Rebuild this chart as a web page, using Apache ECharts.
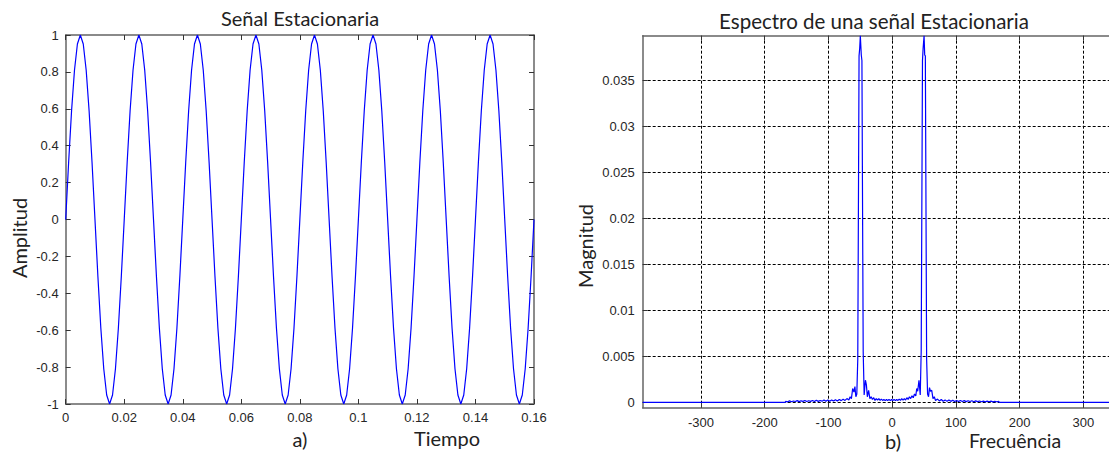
<!DOCTYPE html>
<html><head><meta charset="utf-8">
<script src="https://cdn.jsdelivr.net/npm/echarts@6/dist/echarts.min.js"></script>
<style>html,body{margin:0;padding:0;background:#fff}#c{width:1109px;height:452px}</style>
</head><body><div id="c"></div>
<script>
// ---- Data ----
const timeStep = 0.001; // sample spacing of the time signal (s)
const signalValues = [
 0,0.309,0.588,0.809,0.951,1,0.951,0.809,0.588,0.309,0,-0.309,-0.588,-0.809,-0.951,-1,-0.951,-0.809,-0.588,-0.309,
 0,0.309,0.588,0.809,0.951,1,0.951,0.809,0.588,0.309,0,-0.309,-0.588,-0.809,-0.951,-1,-0.951,-0.809,-0.588,-0.309,
 0,0.309,0.588,0.809,0.951,1,0.951,0.809,0.588,0.309,0,-0.309,-0.588,-0.809,-0.951,-1,-0.951,-0.809,-0.588,-0.309,
 0,0.309,0.588,0.809,0.951,1,0.951,0.809,0.588,0.309,0,-0.309,-0.588,-0.809,-0.951,-1,-0.951,-0.809,-0.588,-0.309,
 0,0.309,0.588,0.809,0.951,1,0.951,0.809,0.588,0.309,0,-0.309,-0.588,-0.809,-0.951,-1,-0.951,-0.809,-0.588,-0.309,
 0,0.309,0.588,0.809,0.951,1,0.951,0.809,0.588,0.309,0,-0.309,-0.588,-0.809,-0.951,-1,-0.951,-0.809,-0.588,-0.309,
 0,0.309,0.588,0.809,0.951,1,0.951,0.809,0.588,0.309,0,-0.309,-0.588,-0.809,-0.951,-1,-0.951,-0.809,-0.588,-0.309,
 0,0.309,0.588,0.809,0.951,1,0.951,0.809,0.588,0.309,0,-0.309,-0.588,-0.809,-0.951,-1,-0.951,-0.809,-0.588,-0.309,
 0
];
const freqTicks = [-300, -200, -100, 0, 100, 200, 300];
const magTicks = [0, 0.005, 0.01, 0.015, 0.02, 0.025, 0.03, 0.035];
const spectrumPoints = [
 [-391.4,0],[-168,0],
 [-167,0.0001],[-164,0.00005],[-161,0.00015],[-158,0.00006],[-155,0.00014],[-152,0.00008],[-149,0.00018],[-146,0.00007],
 [-143,0.00016],[-140,0.0001],[-137,0.0002],[-134,0.00008],[-131,0.00017],[-128,0.0001],[-125,0.0002],[-122,0.00009],
 [-119,0.00022],[-116,0.0001],[-113,0.0002],[-110,0.00012],[-107,0.00024],[-104,0.0001],[-101,0.00025],[-98,0.00012],
 [-95,0.00026],[-92,0.00013],[-89,0.00028],[-86,0.00015],[-83,0.0003],[-80,0.00018],[-77,0.00034],[-74,0.0002],
 [-71,0.0004],[-68,0.00025],[-66,0.0006],[-64,0.0004],[-62,0.0015],[-60,0.0011],[-58.5,0.0017],[-57,0.0006],
 [-55.5,0.0009],[-54,0.0047],[-52,0.0377],[-51,0.0385],[-50,0.0399],[-48.5,0.0378],[-47.5,0.0372],[-45.5,0.0055],
 [-44,0.0008],[-42,0.0024],[-40.5,0.0019],[-39,0.0006],[-37,0.0013],[-35,0.0004],[-33,0.0006],[-31,0.0003],
 [-29,0.0005],[-27,0.0002],[-25,0.0004],[-23,0.00025],[-21,0.0004],[-19,0.0002],[-17,0.00035],[-15,0.0002],
 [-13,0.0003],[-11,0.00018],[-9,0.0003],[-7,0.0002],[-5,0.00032],[-3,0.00018],[-1,0.0003],[1,0.0002],
 [3,0.00032],[5,0.00018],[7,0.0003],[9,0.0002],[11,0.00035],[13,0.0002],[15,0.0004],[17,0.00022],
 [19,0.0004],[21,0.00025],[23,0.0005],[25,0.0003],[27,0.0006],[29,0.0004],[31,0.0007],[33,0.0005],
 [35,0.0009],[37,0.0007],[38.5,0.0015],[40,0.0012],[42,0.0024],[44,0.0008],[45.5,0.0056],[47.5,0.0372],
 [48.5,0.0385],[50,0.0399],[51,0.0378],[52,0.0377],[54,0.0047],[55.5,0.0009],[57,0.0006],[58.5,0.0016],
 [60,0.0012],[62,0.0013],[64,0.0004],[66,0.0006],[68,0.0002],[71,0.00035],[74,0.00015],[77,0.0003],
 [80,0.00012],[83,0.00026],[86,0.0001],[89,0.00024],[92,0.0001],[95,0.00022],[98,0.00009],[101,0.0002],
 [104,0.00008],[107,0.0002],[110,0.00009],[113,0.00018],[116,0.00007],[119,0.00017],[122,0.00008],[125,0.00016],
 [128,0.00006],[131,0.00015],[134,0.00007],[137,0.00014],[140,0.00006],[143,0.00013],[146,0.00005],[149,0.00012],
 [152,0.00006],[155,0.00012],[158,0.00005],[161,0.0001],[164,0.00006],[167,0.0001],
 [168,0],[391.4,0]
];

// ---- Chart ----
const signalData = signalValues.map((v, i) => [+(i * timeStep).toFixed(3), v]);
const lblFont = {fontFamily: '"Liberation Sans", Arial, sans-serif', fontSize: 13, color: '#262626'};
const frameLine = {show: true, onZero: false, lineStyle: {color: '#646464', width: 1.5}};
const inTick = {show: true, inside: true, length: 5, lineStyle: {color: '#333', width: 1}};
const gridDash = {show: true, lineStyle: {color: '#000', width: 1, type: [3, 2]}};
const txtFont = '"Lato", "Open Sans", sans-serif';
// visible part of the frequency axis (the original figure is cut at the right edge)
const freqMin = -391.4, freqMaxVisible = 340.1;

const chart = echarts.init(document.getElementById('c'), null, {renderer: 'svg'});
chart.setOption({
  animation: false,
  backgroundColor: '#fff',
  grid: [
    {left: 65.7, top: 35, width: 468.3, height: 369},
    {left: 642.7, top: 35.7, width: 466.3, height: 372}
  ],
  xAxis: [
    {type: 'value', gridIndex: 0, position: 'bottom', min: 0, max: 0.16, interval: 0.02,
     axisLine: frameLine, axisTick: inTick, splitLine: {show: false},
     axisLabel: Object.assign({margin: 7}, lblFont)},
    {type: 'value', gridIndex: 0, position: 'top', min: 0, max: 0.16, interval: 0.02,
     axisLine: frameLine, axisTick: inTick, splitLine: {show: false}, axisLabel: {show: false}},
    {type: 'value', gridIndex: 1, position: 'bottom', min: freqMin, max: freqMaxVisible,
     axisLine: frameLine,
     axisTick: Object.assign({customValues: freqTicks}, inTick),
     splitLine: gridDash,
     axisLabel: Object.assign({margin: 8, customValues: freqTicks}, lblFont)},
    {type: 'value', gridIndex: 1, position: 'top', min: freqMin, max: freqMaxVisible,
     axisLine: frameLine,
     axisTick: Object.assign({customValues: freqTicks}, inTick),
     splitLine: {show: false}, axisLabel: {show: false, customValues: freqTicks}}
  ],
  yAxis: [
    {type: 'value', gridIndex: 0, position: 'left', min: -1, max: 1, interval: 0.2,
     axisLine: frameLine, axisTick: inTick, splitLine: {show: false},
     axisLabel: Object.assign({margin: 7}, lblFont)},
    {type: 'value', gridIndex: 0, position: 'right', min: -1, max: 1, interval: 0.2,
     axisLine: frameLine, axisTick: inTick, splitLine: {show: false}, axisLabel: {show: false}},
    {type: 'value', gridIndex: 1, position: 'left', min: -0.00059, max: 0.0399,
     axisLine: frameLine,
     axisTick: Object.assign({customValues: magTicks}, inTick),
     splitLine: gridDash,
     axisLabel: Object.assign({margin: 8, customValues: magTicks}, lblFont)}
  ],
  series: [
    {type: 'line', xAxisIndex: 0, yAxisIndex: 0, data: signalData, showSymbol: false,
     lineStyle: {color: '#0000ff', width: 1.2}, silent: true},
    {type: 'line', xAxisIndex: 2, yAxisIndex: 2, data: spectrumPoints, showSymbol: false,
     lineStyle: {color: '#0000ff', width: 1.2}, silent: true}
  ],
  graphic: [
    {type: 'text', x: 300, y: 18, style: {text: 'Señal Estacionaria', fill: '#222', fontFamily: txtFont, fontSize: 20, textAlign: 'center', textVerticalAlign: 'middle'}},
    {type: 'text', x: 874, y: 21, style: {text: 'Espectro de una señal Estacionaria', fill: '#222', fontFamily: txtFont, fontSize: 20.5, textAlign: 'center', textVerticalAlign: 'middle'}},
    {type: 'text', x: 19, y: 238, rotation: Math.PI / 2, style: {text: 'Amplitud', fill: '#222', fontFamily: txtFont, fontSize: 20, textAlign: 'center', textVerticalAlign: 'middle'}},
    {type: 'text', x: 447, y: 438, style: {text: 'Tiempo', fill: '#222', fontFamily: txtFont, fontSize: 20, textAlign: 'center', textVerticalAlign: 'middle'}},
    {type: 'text', x: 300, y: 439, style: {text: 'a)', fill: '#222', fontFamily: txtFont, fontSize: 20, textAlign: 'center', textVerticalAlign: 'middle'}},
    {type: 'text', x: 585, y: 246, rotation: Math.PI / 2, style: {text: 'Magnitud', fill: '#222', fontFamily: txtFont, fontSize: 20, textAlign: 'center', textVerticalAlign: 'middle'}},
    {type: 'text', x: 1015, y: 440, style: {text: 'Frecuência', fill: '#222', fontFamily: txtFont, fontSize: 19.5, textAlign: 'center', textVerticalAlign: 'middle'}},
    {type: 'text', x: 893, y: 441, style: {text: 'b)', fill: '#222', fontFamily: txtFont, fontSize: 20, textAlign: 'center', textVerticalAlign: 'middle'}}
  ]
});
</script>
</body></html>
